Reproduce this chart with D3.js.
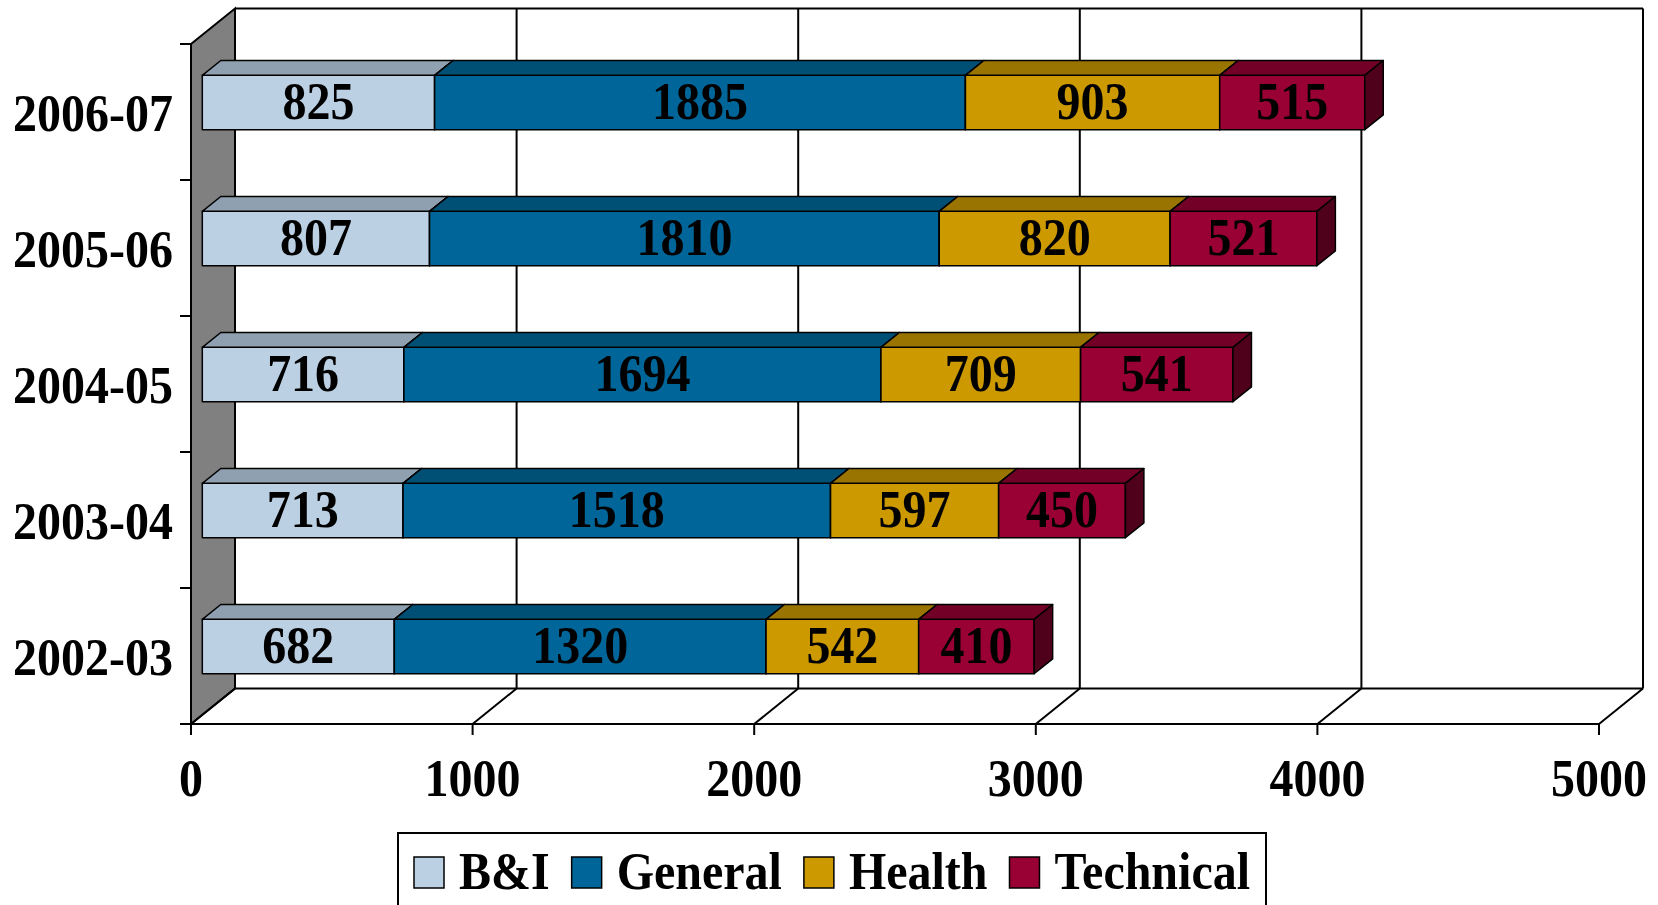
<!DOCTYPE html>
<html>
<head>
<meta charset="utf-8">
<script src="https://cdn.jsdelivr.net/npm/d3@7"></script>
<style>
  body { margin: 0; background: #fff; }
  text { font-family: "Liberation Serif", "Times New Roman", serif; font-weight: bold; }
</style>
</head>
<body>
<div id="chart"></div>
<script>
// data
var years = ["2006-07", "2005-06", "2004-05", "2003-04", "2002-03"];
var series = ["B&I", "General", "Health", "Technical"];
var bandi     = [825, 807, 716, 713, 682];
var general   = [1885, 1810, 1694, 1518, 1320];
var health    = [903, 820, 709, 597, 542];
var technical = [515, 521, 541, 450, 410];
var xTicks = [0, 1000, 2000, 3000, 4000, 5000];

var values = [bandi, general, health, technical];
var front = ["#BCD0E4", "#006699", "#CC9900", "#990033"];
var top_ = ["#8FA1B1", "#004F75", "#9A7400", "#730026"];
var side = ["#6F7F8C", "#003A57", "#6E5300", "#4F001A"];

var W = 1658, H = 905;
var wallDx = 44, wallDy = -35.5;   // depth of the 3d box
var barOx = 11.3, barOy = -9.5;    // bar front face offset
var barDx = 18.5, barDy = -14.8;   // bar depth
var fs = 48;

var svg = d3.select("#chart").append("svg")
    .attr("width", W).attr("height", H);

var x = d3.scaleLinear().domain([0, 5000]).range([191, 1599]);
var y = d3.scaleBand().domain(years).range([44, 724])
    .paddingInner(0.6).paddingOuter(0.3);

var y0 = y.range()[0], y1 = y.range()[1];

// left wall
svg.append("polygon")
    .attr("points", [[x(0), y0], [x(0) + wallDx, y0 + wallDy], [x(0) + wallDx, y1 + wallDy], [x(0), y1]].join(" "))
    .attr("fill", "#808080").attr("stroke", "#000").attr("stroke-width", 2);

// back wall gridlines + floor diagonals
var grid = svg.append("g").attr("stroke", "#000").attr("stroke-width", 2).attr("fill", "none");
xTicks.forEach(function(v) {
  grid.append("line")
    .attr("x1", x(v) + wallDx).attr("y1", y0 + wallDy)
    .attr("x2", x(v) + wallDx).attr("y2", y1 + wallDy);
  grid.append("line")
    .attr("x1", x(v)).attr("y1", y1)
    .attr("x2", x(v) + wallDx).attr("y2", y1 + wallDy);
  grid.append("line")
    .attr("x1", x(v)).attr("y1", y1)
    .attr("x2", x(v)).attr("y2", y1 + 11);
});
grid.append("line")
  .attr("x1", x(0) + wallDx).attr("y1", y0 + wallDy)
  .attr("x2", x(5000) + wallDx).attr("y2", y0 + wallDy);
grid.append("line")
  .attr("x1", x(0) + wallDx).attr("y1", y1 + wallDy)
  .attr("x2", x(5000) + wallDx).attr("y2", y1 + wallDy);
grid.append("line")
  .attr("x1", x(0) - 11).attr("y1", y1)
  .attr("x2", x(5000)).attr("y2", y1);

// y ticks at band edges
d3.range(years.length + 1).forEach(function(i) {
  var ty = y0 + i * y.step();
  grid.append("line")
    .attr("x1", x(0) - 11).attr("y1", ty)
    .attr("x2", x(0)).attr("y2", ty);
});

// bars
var bars = svg.append("g").attr("stroke", "#000").attr("stroke-width", 1.5).attr("stroke-linejoin", "round");
years.forEach(function(yr, i) {
  var cum = 0;
  var fy = y(yr) + barOy, h = y.bandwidth();
  values.forEach(function(arr, s) {
    var v = arr[i];
    var xa = x(cum) + barOx, xb = x(cum + v) + barOx;
    cum += v;
    bars.append("rect")
      .attr("x", xa).attr("y", fy).attr("width", xb - xa).attr("height", h)
      .attr("fill", front[s]);
    bars.append("polygon")
      .attr("points", [[xa, fy], [xa + barDx, fy + barDy], [xb + barDx, fy + barDy], [xb, fy]].join(" "))
      .attr("fill", top_[s]);
    bars.append("polygon")
      .attr("points", [[xb, fy], [xb + barDx, fy + barDy], [xb + barDx, fy + h + barDy], [xb, fy + h]].join(" "))
      .attr("fill", side[s]);
    svg.append("text")
      .attr("transform", "translate(" + ((xa + xb) / 2) + "," + (fy + h / 2 + 16.5) + ") scale(1,1.1)")
      .attr("text-anchor", "middle").attr("font-size", fs)
      .text(v);
  });
});

// y labels
years.forEach(function(yr) {
  svg.append("text")
    .attr("transform", "translate(173," + (y(yr) + y.bandwidth() / 2 + 19) + ") scale(1,1.1)")
    .attr("text-anchor", "end").attr("font-size", fs)
    .text(yr);
});

// x labels
xTicks.forEach(function(v) {
  svg.append("text")
    .attr("transform", "translate(" + x(v) + ",796) scale(1,1.1)")
    .attr("text-anchor", "middle").attr("font-size", fs)
    .text(v);
});

// legend
var legend = svg.append("g");
legend.append("rect")
  .attr("x", 398).attr("y", 833).attr("width", 868).attr("height", 90)
  .attr("fill", "#fff").attr("stroke", "#000").attr("stroke-width", 2);
var lx = 414;
series.forEach(function(name, s) {
  legend.append("rect")
    .attr("x", lx).attr("y", 857).attr("width", 30).attr("height", 31)
    .attr("fill", front[s]).attr("stroke", "#000").attr("stroke-width", 1.5);
  var t = legend.append("text")
    .attr("transform", "translate(" + (lx + 45) + ",889) scale(1,1.1)")
    .attr("font-size", fs)
    .text(name);
  lx += 45 + t.node().getComputedTextLength() + 22;
});
</script>
</body>
</html>
